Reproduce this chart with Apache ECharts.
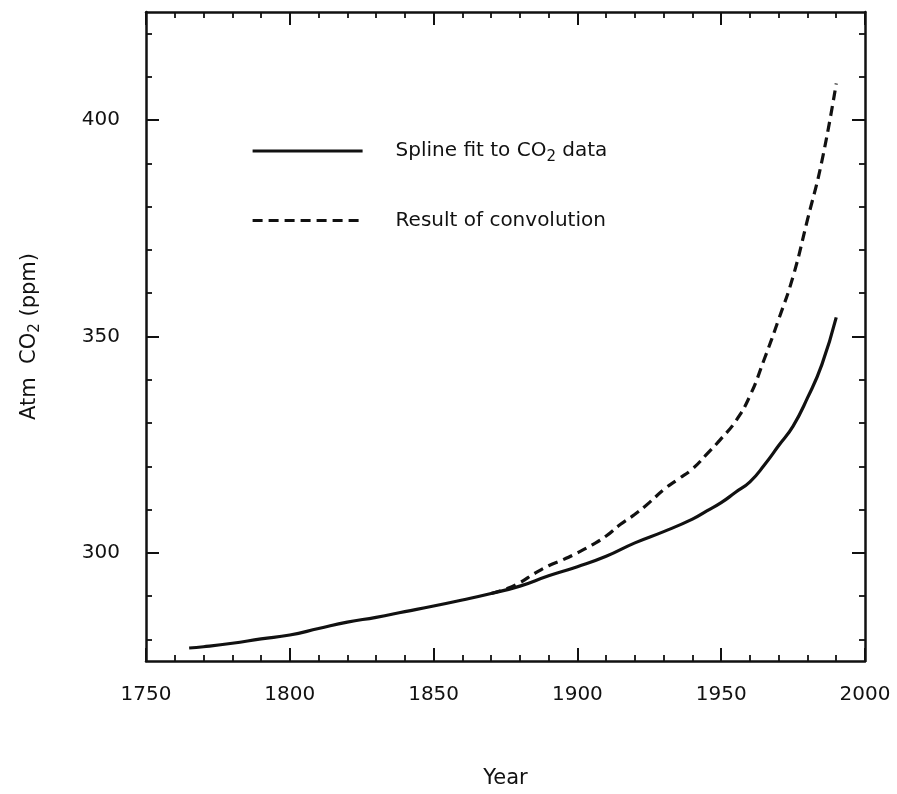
<!DOCTYPE html>
<html>
<head>
<meta charset="utf-8">
<script src="https://cdn.jsdelivr.net/npm/echarts@6/dist/echarts.min.js"></script>
<style>
html,body{margin:0;padding:0;background:#fff;}
#chart{width:897px;height:794px;}
</style>
</head>
<body>
<div id="chart"></div>
<script>
// ---- data ----
const splineYears = [1765,1770,1780,1790,1800,1810,1820,1830,1840,1850,1860,1870,1880,1890,1900,1910,1920,1930,1940,1945,1950,1955,1960,1965,1970,1975,1980,1985,1990];
const splineValues = [278.0,278.3,279.1,280.1,281.0,282.5,284.0,285.1,286.4,287.7,289.1,290.6,292.3,294.7,296.8,299.2,302.3,304.9,307.8,309.7,311.6,314.0,316.4,320.3,324.8,329.3,335.8,343.5,354.4];
const convYears = [1870,1875,1880,1885,1890,1895,1900,1905,1910,1915,1920,1925,1930,1935,1940,1945,1950,1955,1960,1965,1970,1975,1980,1985,1990];
const convValues = [290.6,291.6,293.1,295.2,297.0,298.4,300.0,301.8,303.9,306.6,308.9,311.6,314.6,317.0,319.4,322.8,326.4,330.4,336.3,344.8,354.0,363.9,377.0,390.5,408.5];
const xTicks = [1750,1800,1850,1900,1950,2000];
const yMajorTicks = [300,350,400];
const yMinorTicks = [280,290,310,320,330,340,360,370,380,390,410,420];

const pair = (xs, ys) => xs.map((x, i) => [x, ys[i]]);

const FONT = 'DejaVu Sans, Verdana, sans-serif';
const black = '#111';
const subRich = { sub: { fontSize: 15, padding: [12, 0, 0, 0], fontFamily: FONT, color: black } };

const baseX = {
  type: 'value', min: 1750, max: 2000, interval: 50,
  axisLine: { show: true, onZero: false, lineStyle: { color: black, width: 2.5 } },
  axisTick: { show: true, inside: true, length: 13, lineStyle: { color: black, width: 2 } },
  minorTick: { show: true, splitNumber: 5, length: 6, lineStyle: { color: black, width: 1.8 } },
  splitLine: { show: false }, minorSplitLine: { show: false }
};
const baseY = {
  type: 'value', min: 275, max: 425,
  axisLine: { show: true, onZero: false, lineStyle: { color: black, width: 2.5 } },
  splitLine: { show: false }
};

const option = {
  backgroundColor: '#fff',
  animation: false,
  grid: { left: 146, right: 32, top: 12, bottom: 130 },
  legend: {
    orient: 'vertical', left: 246, top: 136,
    itemWidth: 110, itemHeight: 20, itemGap: 46,
    itemStyle: { opacity: 0 },
    lineStyle: { width: 3.2 },
    textStyle: { fontFamily: FONT, fontSize: 20, color: black, padding: [0, 0, 0, 28], rich: subRich },
    formatter: n => n === 'spline' ? 'Spline fit to CO{sub|2} data' : 'Result of convolution',
    data: ['spline', 'conv']
  },
  xAxis: [
    Object.assign({}, baseX, {
      position: 'bottom',
      axisLabel: { show: true, fontFamily: FONT, fontSize: 20, color: black, margin: 24,
        customValues: xTicks, formatter: v => String(v) },
      name: 'Year', nameLocation: 'middle', nameGap: 107,
      nameTextStyle: { fontFamily: FONT, fontSize: 21, color: black }
    }),
    Object.assign({}, baseX, { position: 'top', axisLabel: { show: false } })
  ],
  yAxis: [
    Object.assign({}, baseY, {
      position: 'left',
      axisTick: { show: true, inside: true, length: 13, customValues: yMajorTicks, lineStyle: { color: black, width: 2 } },
      axisLabel: { show: true, fontFamily: FONT, fontSize: 20, color: black, margin: 26, customValues: yMajorTicks,
        formatter: v => String(v) },
      name: 'Atm  CO{sub|2} (ppm)', nameLocation: 'middle', nameGap: 103, nameRotate: 90,
      nameTextStyle: { fontFamily: FONT, fontSize: 21, color: black, rich: subRich }
    }),
    Object.assign({}, baseY, {
      position: 'left', axisLine: { show: false },
      axisTick: { show: true, inside: true, length: 6, customValues: yMinorTicks, lineStyle: { color: black, width: 1.8 } },
      axisLabel: { show: false }
    }),
    Object.assign({}, baseY, {
      position: 'right',
      axisTick: { show: true, inside: true, length: 13, customValues: yMajorTicks, lineStyle: { color: black, width: 2 } },
      axisLabel: { show: false }
    }),
    Object.assign({}, baseY, {
      position: 'right', axisLine: { show: false },
      axisTick: { show: true, inside: true, length: 6, customValues: yMinorTicks, lineStyle: { color: black, width: 1.8 } },
      axisLabel: { show: false }
    })
  ],
  series: [
    {
      name: 'spline', type: 'line', xAxisIndex: 0, yAxisIndex: 0,
      data: pair(splineYears, splineValues), showSymbol: false, symbol: 'none',
      smooth: 0.5,
      lineStyle: { color: black, width: 3.2 }, itemStyle: { color: black }
    },
    {
      name: 'conv', type: 'line', xAxisIndex: 0, yAxisIndex: 0,
      data: pair(convYears, convValues), showSymbol: false, symbol: 'none',
      smooth: 0.5,
      lineStyle: { color: black, width: 3.2, type: [10, 6] }, itemStyle: { color: black }
    }
  ]
};

const chart = echarts.init(document.getElementById('chart'), null, { renderer: 'canvas' });
chart.setOption(option);
</script>
</body>
</html>
